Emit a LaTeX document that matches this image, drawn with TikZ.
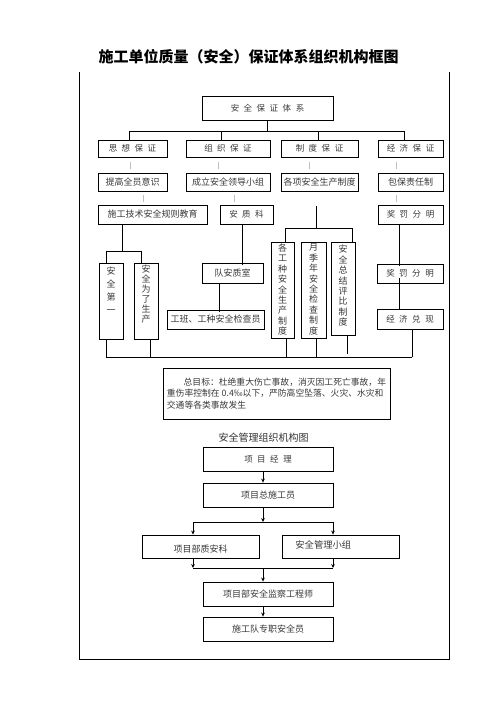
\documentclass[tikz,border=0pt]{standalone}
\usepackage{fontspec}
\setmainfont{Noto Sans CJK SC}
\usetikzlibrary{calc,arrows.meta}
\newcommand\gp{\kern4.5pt}
\begin{document}
\begin{tikzpicture}[x=1pt,y=-1pt,line width=0.8pt,
  box/.style={draw,line width=0.8pt,inner sep=0pt,text=black!78,font=\fontsize{9}{11}\selectfont},
  sbox/.style={box,font=\fontsize{8.5}{10}\selectfont},
  vtext/.style={inner sep=0pt,align=center,text=black!78,anchor=north,font=\fontsize{9}{10.4}\selectfont},
  faint/.style={draw=black!25,line width=0.5pt},
  arr/.style={-{Stealth[length=4pt,width=3.6pt]}},
  ttl/.style={inner sep=0pt,font=\fontsize{15}{17}\selectfont\bfseries}]
\useasboundingbox (0,0) rectangle (496,702);
% frame
\draw (79,72) -- (79,659) -- (449,659) -- (449,72);
\node[ttl] (title) at (248.5,57) {施工单位质量（安全）保证体系组织机构框图};
% top
\node[sbox,minimum width=131pt,minimum height=24pt] (top) at (267.5,108) {安\gp 全\gp 保\gp 证\gp 体\gp 系};
% row 1
\node[sbox,minimum width=69pt,minimum height=17pt] (r1a) at (132.5,148.5) {思\gp 想\gp 保\gp 证};
\node[sbox,minimum width=84pt,minimum height=17pt] (r1b) at (228,148.5) {组\gp 织\gp 保\gp 证};
\node[sbox,minimum width=77pt,minimum height=17pt] (r1c) at (319.5,148.5) {制\gp 度\gp 保\gp 证};
\node[sbox,minimum width=65pt,minimum height=17pt] (r1d) at (410.5,148.5) {经\gp 济\gp 保\gp 证};
% row 2
\node[box,minimum width=69pt,minimum height=18pt] (r2a) at (132.5,182) {提高全员意识};
\node[box,minimum width=84pt,minimum height=18pt] (r2b) at (228,182) {成立安全领导小组};
\node[box,minimum width=77pt,minimum height=18pt] (r2c) at (319.5,182) {各项安全生产制度};
\node[box,minimum width=65pt,minimum height=18pt] (r2d) at (410.5,182) {包保责任制};
% row 3
\node[box,minimum width=109pt,minimum height=19pt] (r3a) at (152.5,214.5) {施工技术安全规则教育};
\node[sbox,minimum width=53pt,minimum height=19pt] (r3b) at (246.5,214.5) {安\gp 质\gp 科};
\node[sbox,minimum width=65pt,minimum height=19pt] (r3d) at (410.5,214.5) {奖\gp 罚\gp 分\gp 明};
% vertical boxes
\node[box,minimum width=24pt,minimum height=76pt] (v1) at (111,301) {};
\node[vtext,font=\fontsize{9}{13}\selectfont] (v1t) at (111,267) {安\\全\\第\\一};
\node[box,minimum width=24pt,minimum height=76pt] (v2) at (146,301) {};
\node[vtext,font=\fontsize{9}{10}\selectfont] (v2t) at (146,265) {安\\全\\为\\了\\生\\产};
\node[box,minimum width=23pt,minimum height=96pt] (v3) at (282.5,290) {};
\node[vtext] (v3t) at (282.5,243.5) {各\\工\\种\\安\\全\\生\\产\\制\\度};
\node[box,minimum width=25pt,minimum height=96pt] (v4) at (313.5,290) {};
\node[vtext] (v4t) at (313.5,243.5) {月\\季\\年\\安\\全\\检\\查\\制\\度};
\node[box,minimum width=24pt,minimum height=93pt] (v5) at (343,288.5) {};
\node[vtext] (v5t) at (343,245) {安\\全\\总\\结\\评\\比\\制\\度};
% middle boxes
\node[box,minimum width=61pt,minimum height=20pt] (dq) at (232.5,273) {队安质室};
\node[box,minimum width=97pt,minimum height=19pt] (gb) at (215.5,319.5) {工班、工种安全检查员};
% right boxes
\node[sbox,minimum width=66pt,minimum height=19pt] (jf2) at (410,273.5) {奖\gp 罚\gp 分\gp 明};
\node[sbox,minimum width=66pt,minimum height=20pt] (jj) at (410,319) {经\gp 济\gp 兑\gp 现};
% goal
\node[box,minimum width=227pt,minimum height=51pt,align=left,inner sep=0pt,font=\fontsize{8.8}{11.7}\selectfont] (goal) at (276.5,393.5)
 {\hspace*{1.9em}总目标：杜绝重大伤亡事故，消灭因工死亡事故，年\\重伤率控制在 0.4‰以下，严防高空坠落、火灾、水灾和\\交通等各类事故发生\hspace*{13.6em}};

% connectors: top bus
\coordinate (b1) at (129,131);
\coordinate (b2) at (221,131);
\coordinate (b3) at (318,131);
\coordinate (b4) at (404,131);
\draw (top.south) -- (top.south |- b1);
\draw (b1) -- (b4);
\draw (b1) -- (b1 |- r1a.north);
\draw (b2) -- (b2 |- r1b.north);
\draw (b3) -- (b3 |- r1c.north);
\draw (b4) -- (b4 |- r1d.north);
% faint links
\draw[faint] ($(r1a.south)+(-2.5,5)$) -- ++(0,7);
\draw[faint] ($(r1b.south)+(-10,5)$) -- ++(0,7);
\draw[faint] ($(r1c.south)+(-10.5,5)$) -- ++(0,7);
\draw[faint] ($(r1d.south)+(-14.5,5)$) -- ++(0,7);
\draw[faint] ($(r2a.south)+(10.5,4)$) -- ++(0,7);
\draw[faint] ($(r2b.south)+(6,4)$) -- ++(0,7);
\draw[faint] ($(r2d.south)+(-14.5,4)$) -- ++(0,7);
% left group
\coordinate (l0) at (122,251);
\coordinate (l1) at (106,251);
\coordinate (l2) at (141,251);
\draw (r3a.south -| l0) -- (l0);
\draw (l1) -- (l2);
\draw (l1) -- (l1 |- v1.north);
\draw (l2) -- (l2 |- v2.north);
% middle
\draw ([xshift=-4.5pt]r3b.south) -- ([xshift=-4.5pt,yshift=-2pt]r3b.south |- dq.north);
\draw ([xshift=-13.5pt]dq.south) -- ([xshift=-13.5pt,yshift=-2pt]dq.south |- gb.north);
% system column
\coordinate (z0) at (316,206);
\coordinate (z1) at (316,228);
\coordinate (z2) at (285,228);
\coordinate (z3) at (352,228);
\draw (z0) -- (z1);
\draw (z2) -- (z3);
\draw (z2) -- (z2 |- v3.north);
\draw (z3) -- (z3 |- v5.north);
% right column
\draw ([xshift=-11.5pt]r3d.south) -- ([xshift=-11.5pt,yshift=-2pt]r3d.south |- jf2.north);
\draw ([xshift=-11pt,yshift=5pt]jf2.south) -- ([xshift=-11pt]jf2.south |- jj.north);
% bottom bus
\coordinate (q1) at (106,357);
\coordinate (q2) at (412,357);
\draw (q1) -- (q2);
\draw ([xshift=-5pt]v1.south) -- ([xshift=-5pt]v1.south |- q1);
\draw ([xshift=4pt]v2.south) -- ([xshift=4pt]v2.south |- q1);
\draw ([xshift=3.5pt]v3.south) -- ([xshift=3.5pt]v3.south |- q1);
\draw ([xshift=2.5pt]v4.south) -- ([xshift=2.5pt]v4.south |- q1);
\draw ([xshift=4pt]v5.south) -- ([xshift=4pt,yshift=3pt]v5.south |- q1);
\draw ([xshift=2pt]jj.south) -- ([xshift=2pt]jj.south |- q1);

% second chart
\node[inner sep=0pt,font=\fontsize{10}{12}\selectfont,text=black!80] (t2) at (263.5,438) {安全管理组织机构图};
\node[sbox,minimum width=130pt,minimum height=24pt] (m1) at (268,459) {项\gp 目\gp 经\gp 理};
\node[box,minimum width=130pt,minimum height=24pt] (m2) at (268,495) {项目总施工员};
\node[box,minimum width=117pt,minimum height=23pt] (m3a) at (200.5,546.5) {};
\node[inner sep=0pt,text=black!78,font=\fontsize{9}{11}\selectfont] (m3at) at (200.5,549) {项目部质安科};
\node[box,minimum width=117pt,minimum height=23pt] (m3b) at (340.5,546.5) {};
\node[inner sep=0pt,anchor=west,text=black!78,font=\fontsize{9.3}{11}\selectfont] (m3bt) at (295,545) {安全管理小组};
\node[box,minimum width=130pt,minimum height=24pt] (m4) at (268,594) {项目部安全监察工程师};
\node[box,minimum width=130pt,minimum height=24pt] (m5) at (268,629) {施工队专职安全员};

\draw[arr] ([xshift=-5pt]m1.south) -- ([xshift=-5pt]m1.south |- m2.north);
\coordinate (j1) at (263,522);
\coordinate (j1a) at (193,522);
\coordinate (j1b) at (333,522);
\draw[arr] ([xshift=-5pt]m2.south) -- (j1);
\draw (j1a) -- (j1b);
\draw[arr] (j1a) -- (j1a |- m3a.north);
\draw[arr] (j1b) -- (j1b |- m3b.north);
\coordinate (j2) at (263,568);
\coordinate (j2a) at (193,568);
\coordinate (j2b) at (333,568);
\draw[arr] (j2a |- m3a.south) -- (j2a);
\draw[arr] (j2b |- m3b.south) -- (j2b);
\draw (j2a) -- (j2b);
\draw[arr] (j2) -- (j2 |- m4.north);
\draw[arr] ([xshift=-5pt]m4.south) -- ([xshift=-5pt]m4.south |- m5.north);
\end{tikzpicture}
\end{document}
